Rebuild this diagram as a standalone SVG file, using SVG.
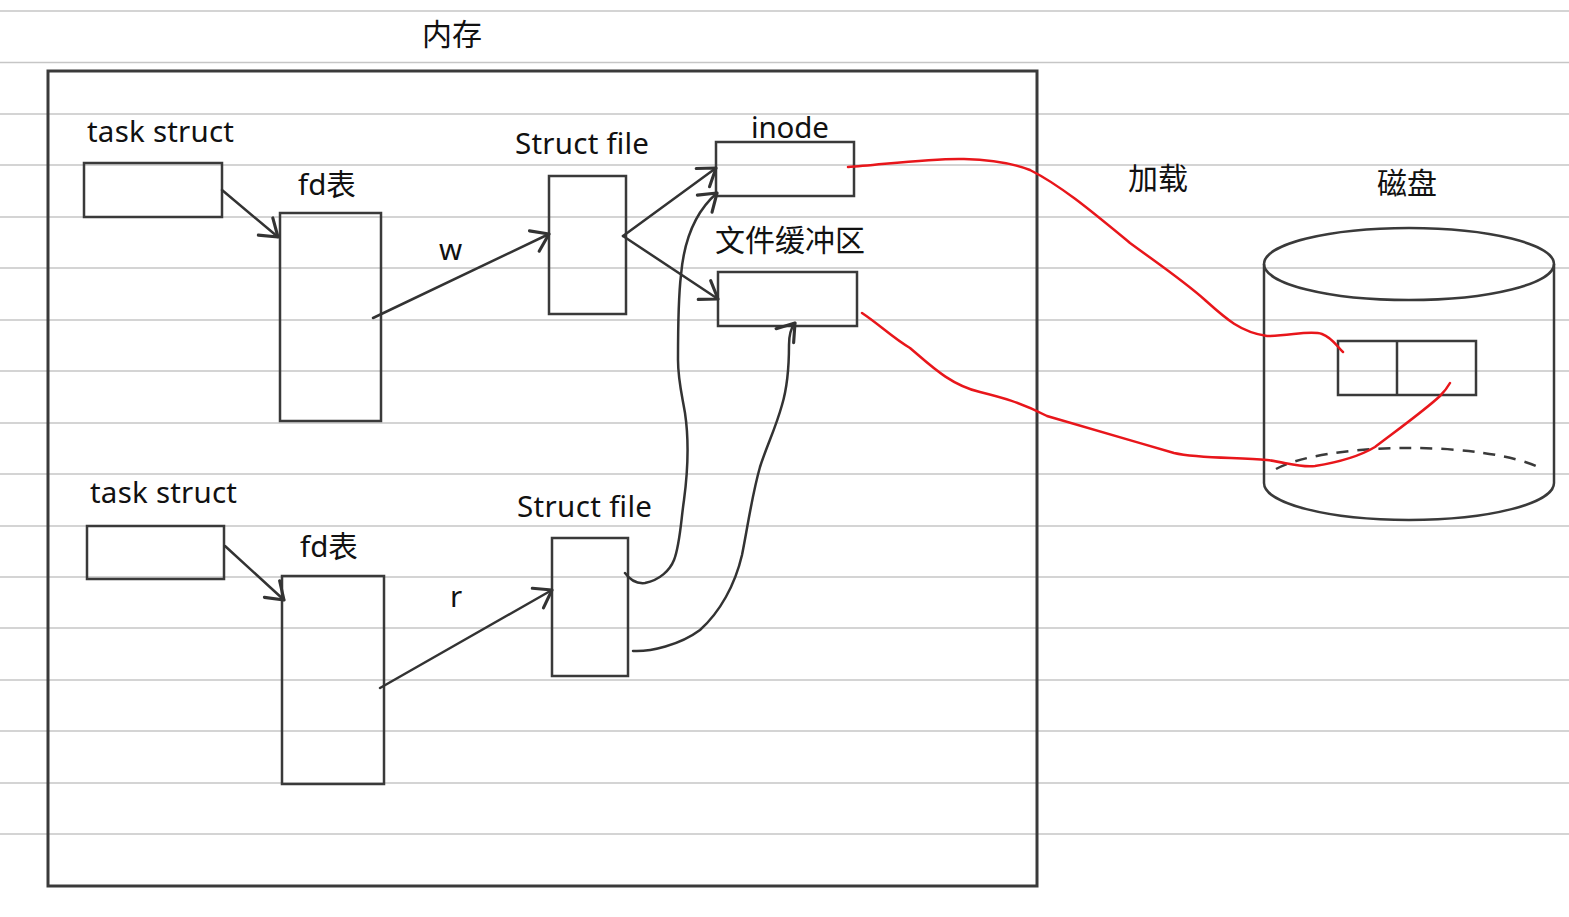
<svg xmlns="http://www.w3.org/2000/svg" width="1569" height="917" viewBox="0 0 1569 917">
<style>
.rule{stroke:#c6c6c6;stroke-width:1.5}
.box{fill:none;stroke:#3a3a3a;stroke-width:2.5}
.frame{fill:none;stroke:#3a3a3a;stroke-width:3}
.conn{fill:none;stroke:#333;stroke-width:2.5;stroke-linecap:round;stroke-linejoin:round}
.red{fill:none;stroke:#e8161b;stroke-width:2.5;stroke-linecap:round}
.dash{fill:none;stroke:#3a3a3a;stroke-width:2.5;stroke-dasharray:12 9}
.t{font-family:"Noto Sans","Noto Sans CJK SC",sans-serif;font-size:29.5px;fill:#111}
.c{font-family:"Noto Sans CJK SC","Noto Sans",sans-serif;font-size:30px;fill:#111}
</style>
<defs>
<marker id="ah" markerUnits="userSpaceOnUse" markerWidth="30" markerHeight="30" viewBox="-16 -12 20 24" refX="0" refY="0" orient="auto">
<path d="M -13 -9 L 0 0 L -13 9" fill="none" stroke="#333" stroke-width="2.5" stroke-linecap="round" stroke-linejoin="round"/>
</marker>
</defs>
<rect width="1569" height="917" fill="#ffffff"/>
<g id="ruled-lines">
<line class="rule" x1="0" y1="11" x2="1569" y2="11"/>
<line class="rule" x1="0" y1="62.5" x2="1569" y2="62.5"/>
<line class="rule" x1="0" y1="114" x2="1569" y2="114"/>
<line class="rule" x1="0" y1="165" x2="1569" y2="165"/>
<line class="rule" x1="0" y1="217" x2="1569" y2="217"/>
<line class="rule" x1="0" y1="268" x2="1569" y2="268"/>
<line class="rule" x1="0" y1="320" x2="1569" y2="320"/>
<line class="rule" x1="0" y1="371" x2="1569" y2="371"/>
<line class="rule" x1="0" y1="423" x2="1569" y2="423"/>
<line class="rule" x1="0" y1="474" x2="1569" y2="474"/>
<line class="rule" x1="0" y1="526" x2="1569" y2="526"/>
<line class="rule" x1="0" y1="577" x2="1569" y2="577"/>
<line class="rule" x1="0" y1="628" x2="1569" y2="628"/>
<line class="rule" x1="0" y1="680" x2="1569" y2="680"/>
<line class="rule" x1="0" y1="731" x2="1569" y2="731"/>
<line class="rule" x1="0" y1="783" x2="1569" y2="783"/>
<line class="rule" x1="0" y1="834" x2="1569" y2="834"/>
</g>
<g id="memory">
<rect class="frame" x="48" y="71" width="989" height="815"/>
<text class="c" x="422" y="45">内存</text>
</g>
<g id="task-struct-1">
<text class="t" x="87" y="142" textLength="147">task struct</text>
<rect class="box" x="84" y="163" width="138" height="54"/>
</g>
<g id="fd-table-1">
<text class="t" x="298" y="195">fd表</text>
<rect class="box" x="280" y="213" width="101" height="208"/>
</g>
<g id="struct-file-1">
<text class="t" x="515" y="154" textLength="134">Struct file</text>
<rect class="box" x="549" y="176" width="77" height="138"/>
</g>
<g id="inode">
<text class="t" x="751" y="138" textLength="78">inode</text>
<rect class="box" x="716" y="142" width="138" height="54"/>
</g>
<g id="file-buffer">
<text class="c" x="715" y="251">文件缓冲区</text>
<rect class="box" x="718" y="272" width="139" height="54"/>
</g>
<g id="task-struct-2">
<text class="t" x="90" y="503" textLength="147">task struct</text>
<rect class="box" x="87" y="526" width="137" height="53"/>
</g>
<g id="fd-table-2">
<text class="t" x="300" y="557">fd表</text>
<rect class="box" x="282" y="576" width="102" height="208"/>
</g>
<g id="struct-file-2">
<text class="t" x="517" y="517" textLength="135">Struct file</text>
<rect class="box" x="552" y="538" width="76" height="138"/>
</g>
<g id="load-label">
<text class="c" x="1128" y="189">加载</text>
</g>
<g id="disk">
<text class="c" x="1377" y="194">磁盘</text>
<ellipse class="box" cx="1409" cy="264" rx="145" ry="36"/>
<line class="box" x1="1264" y1="264" x2="1264" y2="483"/>
<line class="box" x1="1554" y1="264" x2="1554" y2="483"/>
<path class="box" d="M 1264 483 A 145 37 0 0 0 1554 483"/>
<path class="dash" d="M 1276 469 A 145 35 0 0 1 1539 467.5"/>
<rect class="box" x="1338" y="341" width="138" height="54"/>
<line class="box" x1="1397" y1="341" x2="1397" y2="395"/>
</g>
<g id="connectors">
<path class="conn" d="M 222 190 L 278 237" marker-end="url(#ah)"/>
<path class="conn" d="M 373 318 L 549 234" marker-end="url(#ah)"/>
<text class="t" x="439" y="260">w</text>
<path class="conn" d="M 623 236 L 716 168" marker-end="url(#ah)"/>
<path class="conn" d="M 623 236 L 718 299" marker-end="url(#ah)"/>
<path class="conn" d="M 225 546 L 284 600" marker-end="url(#ah)"/>
<path class="conn" d="M 380 688 L 552 590" marker-end="url(#ah)"/>
<text class="t" x="450" y="607">r</text>
<path class="conn" d="M 625 573 C 630 580 636 584 645 583 C 660 580 670 570 674 560 C 680 545 681 520 684 500 C 688 470 689 440 685 413 C 682 395 678 380 678 360 C 678 330 678 300 681 275 C 684 240 695 212 717 193" marker-end="url(#ah)"/>
<path class="conn" d="M 633 651 C 650 652 680 645 700 630 C 720 612 735 585 742 555 C 748 525 752 495 760 467 C 767 445 775 430 782 405 C 788 385 789 365 789 345 C 789 335 791 328 795 323" marker-end="url(#ah)"/>
<path class="red" d="M 848 167 C 880 165 930 158 964 159 C 995 160 1015 164 1030 170 C 1060 185 1090 210 1130 243 C 1160 265 1185 282 1205 300 C 1225 318 1240 332 1267 336 C 1290 336 1310 330 1322 334 C 1333 338 1338 348 1343 352"/>
<path class="red" d="M 862 313 C 880 325 893 338 910 348 C 930 365 950 385 980 392 C 1000 397 1020 402 1047 416 C 1080 426 1130 440 1174 453 C 1200 459 1240 457 1267 460 C 1285 462 1300 468 1315 466 C 1340 462 1360 456 1375 447 C 1400 428 1425 410 1440 396 C 1446 390 1450 383 1450 383"/>
</g>
</svg>
